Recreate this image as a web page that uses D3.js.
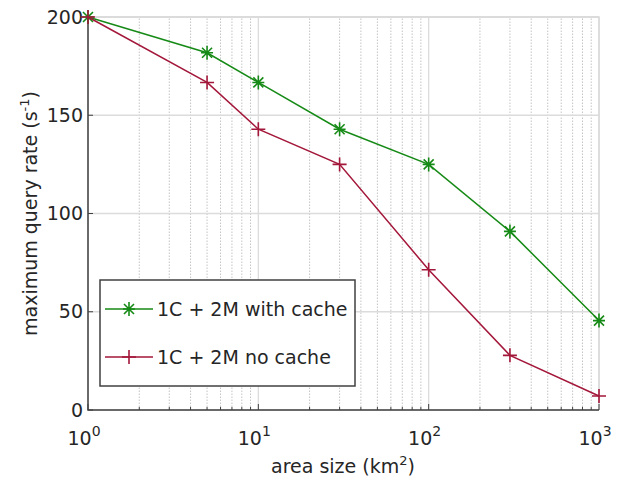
<!DOCTYPE html>
<html lang="en">
  <head>
    <meta charset="UTF-8" />
    <title>Query rate</title>
    <style>
      body { margin: 0; background: #fff; }
      text { font-family: "DejaVu Sans", sans-serif; fill: #262626; }
    </style>
  </head>
  <body>
    <script src="https://d3js.org/d3.v7.min.js"></script>
    <script>
      const width = 628;
      const height = 478;

      // data
      const areas = [1, 5, 10, 30, 100, 300, 1000];
      const withCache = [200, 181.8, 166.7, 142.9, 125, 90.9, 45.5];
      const noCache = [200, 166.7, 142.9, 125, 71.4, 27.8, 7.1];
      const seriesNames = ["1C + 2M with cache", "1C + 2M no cache"];
      const seriesColors = ["#168a16", "#a3173a"];
      const yTicks = [0, 50, 100, 150, 200];
      const xTicks = [1, 10, 100, 1000];

      const fs = 19;
      const margin = { left: 88, right: 29, top: 17, bottom: 68 };
      const x = d3.scaleLog().domain([1, 1000]).range([margin.left, width - margin.right]);
      const y = d3.scaleLinear().domain([0, 200]).range([height - margin.bottom, margin.top]);

      const svg = d3.select("body").append("svg")
        .attr("width", width).attr("height", height);

      // minor grid (dotted)
      const minor = [];
      for (let d = 1; d < 1000; d *= 10)
        for (let k = 2; k <= 9; k++) minor.push(d * k);
      svg.append("g").selectAll("line").data(minor).join("line")
        .attr("x1", d => x(d)).attr("x2", d => x(d))
        .attr("y1", y(0)).attr("y2", y(200))
        .attr("stroke", "#c4c4c4").attr("stroke-width", 1)
        .attr("stroke-dasharray", "1.5,1.5");

      // major grid
      svg.append("g").selectAll("line").data(xTicks).join("line")
        .attr("x1", d => x(d)).attr("x2", d => x(d))
        .attr("y1", y(0)).attr("y2", y(200))
        .attr("stroke", "#dcdcdc").attr("stroke-width", 1.3);
      svg.append("g").selectAll("line").data(yTicks).join("line")
        .attr("x1", x(1)).attr("x2", x(1000))
        .attr("y1", d => y(d)).attr("y2", d => y(d))
        .attr("stroke", "#dcdcdc").attr("stroke-width", 1.3);

      // top/right box
      svg.append("path")
        .attr("d", `M${x(1)},${y(200)}H${x(1000)}V${y(0)}`)
        .attr("fill", "none").attr("stroke", "#d8d8d8").attr("stroke-width", 1.3);

      // inner ticks on bottom axis
      svg.append("g").selectAll("line").data(minor.concat(xTicks)).join("line")
        .attr("x1", d => x(d)).attr("x2", d => x(d))
        .attr("y1", y(0)).attr("y2", d => y(0) - (xTicks.includes(d) ? 6 : 3))
        .attr("stroke", "#404040").attr("stroke-width", 1);
      svg.append("g").selectAll("line").data(yTicks).join("line")
        .attr("x1", x(1)).attr("x2", x(1) + 5)
        .attr("y1", d => y(d)).attr("y2", d => y(d))
        .attr("stroke", "#404040").attr("stroke-width", 1);

      // axis lines
      svg.append("path")
        .attr("d", `M${x(1)},${y(200)}V${y(0)}H${x(1000)}`)
        .attr("fill", "none").attr("stroke", "#404040").attr("stroke-width", 1.5);

      // y tick labels
      svg.append("g").selectAll("text").data(yTicks).join("text")
        .attr("x", x(1) - 5).attr("y", d => y(d)).attr("dy", "0.35em")
        .attr("text-anchor", "end").attr("font-size", fs).text(d => d);

      // x tick labels 10^n
      const xl = svg.append("g").selectAll("text").data(xTicks).join("text")
        .attr("x", d => x(d) - 4).attr("y", y(0) + 35)
        .attr("text-anchor", "middle").attr("font-size", fs);
      xl.append("tspan").text("10");
      xl.append("tspan").attr("dy", -9).attr("font-size", 14)
        .text(d => Math.round(Math.log10(d)));

      // axis titles
      const xt = svg.append("text").attr("x", 343).attr("y", 473)
        .attr("text-anchor", "middle").attr("font-size", fs);
      xt.append("tspan").text("area size (km");
      xt.append("tspan").attr("dy", -8).attr("font-size", 13).text("2");
      xt.append("tspan").attr("dy", 8).text(")");

      const yt = svg.append("text")
        .attr("transform", `translate(37,${(y(0) + y(200)) / 2}) rotate(-90)`)
        .attr("text-anchor", "middle").attr("font-size", fs);
      yt.append("tspan").text("maximum query rate (s");
      yt.append("tspan").attr("dy", -8).attr("font-size", 13).text("-1");
      yt.append("tspan").attr("dy", 8).text(")");

      // series
      const series = [withCache, noCache].map((vals, i) => ({
        name: seriesNames[i], color: seriesColors[i],
        pts: vals.map((v, j) => [areas[j], v])
      }));
      const line = d3.line().x(d => x(d[0])).y(d => y(d[1]));

      function marker(g, i, color) {
        const s = 7;
        let d = `M${-s},0H${s}M0,${-s}V${s}`;
        if (i === 0) d = `M${-s + 1},0H${s - 1}M0,${-s}V${s}M-5,-5L5,5M-5,5L5,-5`;
        g.append("path").attr("d", d).attr("stroke", color)
          .attr("stroke-width", 1.6).attr("fill", "none");
      }

      series.forEach((s, i) => {
        svg.append("path").datum(s.pts).attr("d", line)
          .attr("fill", "none").attr("stroke", s.color).attr("stroke-width", 1.5);
        s.pts.forEach(p => {
          const g = svg.append("g").attr("transform", `translate(${x(p[0])},${y(p[1])})`);
          marker(g, i, s.color);
        });
      });

      // legend
      const lg = svg.append("g");
      lg.append("rect").attr("x", 100).attr("y", 280).attr("width", 255).attr("height", 106)
        .attr("fill", "#fff").attr("stroke", "#404040").attr("stroke-width", 1.5);
      series.forEach((s, i) => {
        const ly = 309 + i * 48;
        lg.append("line").attr("x1", 105).attr("x2", 153).attr("y1", ly).attr("y2", ly)
          .attr("stroke", s.color).attr("stroke-width", 1.5);
        marker(lg.append("g").attr("transform", `translate(129,${ly})`), i, s.color);
        lg.append("text").attr("x", 157).attr("y", ly).attr("dy", "0.35em")
          .attr("font-size", fs).text(s.name);
      });
    </script>
  </body>
</html>
